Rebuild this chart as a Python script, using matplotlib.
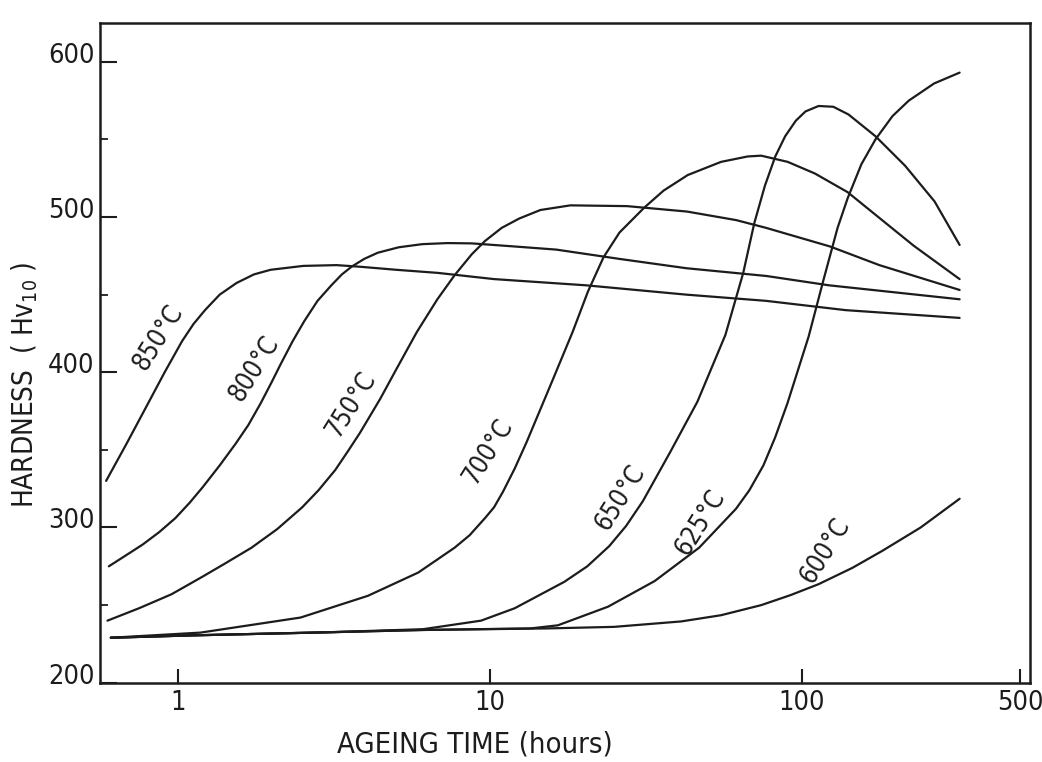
import numpy as np
import matplotlib
matplotlib.use('Agg')
import matplotlib.pyplot as plt
from matplotlib.ticker import FixedLocator, NullLocator
from matplotlib.transforms import ScaledTranslation

# ageing time (hours) / hardness (Hv10)
t_850 = [0.588, 0.684, 0.797, 0.906, 1.03, 1.12, 1.22, 1.36, 1.54, 1.75, 1.98, 2.52, 3.22, 3.81, 5.0, 6.8,
         10.3, 20.3, 42.5, 76.6, 138, 320]
hv_850 = [330, 354, 379, 400, 420, 431, 440, 450, 457.5, 463, 466, 468.5, 469, 468, 466, 464,
          460, 456, 450, 446, 440, 435]

t_800 = [0.60, 0.68, 0.77, 0.87, 0.98, 1.09, 1.20, 1.36, 1.53, 1.68, 1.84, 2.0, 2.13, 2.33, 2.54, 2.80,
         3.10, 3.35, 3.60, 3.95, 4.37, 5.1, 6.06, 7.3, 8.75, 12, 16.3, 26, 42.6, 76.9, 122, 320]
hv_800 = [275, 282, 289, 297, 306, 316, 326, 340, 354, 366, 380, 394, 405, 420, 433, 446,
          456, 463, 468, 473, 477, 480.5, 482.5, 483.2, 483, 481, 479, 473, 467, 462, 456, 447]

t_750 = [0.594, 0.75, 0.953, 1.19, 1.42, 1.72, 2.08, 2.50, 2.82, 3.19, 3.50, 3.83, 4.45, 5.01, 5.83, 6.78,
         7.70, 8.74, 9.63, 10.9, 12.4, 14.5, 18.1, 27.5, 42.8, 61.5, 76.7, 123, 177, 320]
hv_750 = [240, 248, 257, 268, 277, 287, 299, 313, 324, 337, 349, 361, 383, 402, 426, 447,
          462.5, 476, 484.5, 493, 499, 504.5, 507.5, 507, 503.5, 498, 493, 481, 469, 453]

t_700 = [0.609, 1.18, 2.47, 4.06, 5.89, 7.70, 8.6, 9.63, 10.3, 11.0, 12.0, 13.1, 15.8, 18.4, 20.6, 23.1,
         26, 31.2, 36, 43, 55, 67, 74, 90, 110, 140, 178, 228, 320]
hv_700 = [229, 232.3, 242, 256, 271, 287, 295, 306, 313, 323, 338, 355, 394, 426, 452, 474,
          490, 506, 517, 527, 535.5, 539, 539.5, 535.5, 528, 516, 499, 481.5, 460]

t_650 = [0.609, 1.10, 3.0, 6.1, 9.36, 12.0, 17.3, 20.5, 24.1, 27.3, 30.9, 37.9, 46.2, 56.8, 64.8, 70.3,
         76, 82.1, 88.3, 95.5, 102.6, 113, 126, 141, 172, 214, 266, 320]
hv_650 = [229, 230.5, 232.5, 234.5, 240, 248, 265, 275, 288, 301, 317, 349, 381, 424, 464, 496,
          520, 539, 552, 562, 568, 571.5, 571, 566, 552, 533, 510, 482]

t_625 = [0.609, 1.10, 3.0, 6.1, 13.5, 16.5, 23.9, 33.7, 46.8, 61.4, 67.8, 75.2, 82, 89.8, 105, 117,
         130, 140, 155, 172, 195, 220, 265, 320]
hv_625 = [229, 230.5, 232.5, 234, 235, 237, 249, 265.5, 287, 312, 324, 340, 358, 380, 423, 459,
          493, 512, 534, 550, 565, 575, 586, 593]

t_600 = [0.609, 1.10, 3.0, 6.1, 15.3, 25, 41, 55, 74, 92, 113, 145, 181, 240, 320]
hv_600 = [229, 230.5, 232.5, 234, 235, 236, 239.5, 243.5, 250, 256.5, 263.5, 274, 285, 300, 318.5]

temps = ['850°C', '800°C', '750°C', '700°C', '650°C', '625°C', '600°C']
curves = [(t_850, hv_850), (t_800, hv_800), (t_750, hv_750), (t_700, hv_700),
          (t_650, hv_650), (t_625, hv_625), (t_600, hv_600)]

x_ticks = [1, 10, 100, 500]
y_ticks = [200, 300, 400, 500, 600]
y_minor = [250, 350, 450, 550]

ink = '#1c1c1c'
plt.rcParams['font.stretch'] = 'condensed'

fig = plt.figure(figsize=(10.42, 7.62), dpi=100)
ax = fig.add_axes([0.096, 0.104, 0.8925, 0.8655])

for t, hv in curves:
    ax.plot(t, hv, color=ink, lw=1.6, solid_capstyle='round', solid_joinstyle='round')

# curve labels, written along the rising part of each curve
label_pos = [(0.864, 422), (1.76, 402), (3.59, 379), (9.9, 349), (26.1, 319), (47.3, 303), (119, 285)]
for name, (lt, lh) in zip(temps, label_pos):
    ax.text(lt, lh, name, rotation=58, rotation_mode='anchor', ha='center', va='center',
            fontsize=18.5, color=ink)

ax.set_xscale('log')
ax.set_xlim(0.5623, 538)
ax.set_ylim(200, 624.8)

ax.xaxis.set_major_locator(FixedLocator(x_ticks))
ax.xaxis.set_minor_locator(NullLocator())
ax.set_xticklabels([str(v) for v in x_ticks])
ax.yaxis.set_major_locator(FixedLocator(y_ticks))
ax.yaxis.set_minor_locator(FixedLocator(y_minor))

ax.tick_params(axis='x', which='major', direction='in', length=10, width=1.5, pad=5,
               labelsize=19.5, colors=ink)
ax.tick_params(axis='y', which='major', direction='in', length=12, width=1.5, pad=4,
               labelsize=19.5, colors=ink)
ax.tick_params(axis='y', which='minor', direction='in', length=6, width=1.3, colors=ink)

# hand-lettered y values sit a little above their ticks
for lab in ax.get_yticklabels():
    lab.set_transform(lab.get_transform() + ScaledTranslation(0, 0.09, fig.dpi_scale_trans))

for sp in ax.spines.values():
    sp.set_linewidth(1.8)
    sp.set_color(ink)

ax.set_xlabel('AGEING TIME (hours)', fontsize=21, color=ink, va='center')
ax.xaxis.set_label_coords(0.403, -0.094)
ax.set_ylabel('HARDNESS  ( Hv$_{10}$ )', fontsize=20, color=ink, va='center')
ax.yaxis.set_label_coords(-0.081, 0.452)

fig.savefig('out.png', dpi=100, facecolor='white')
